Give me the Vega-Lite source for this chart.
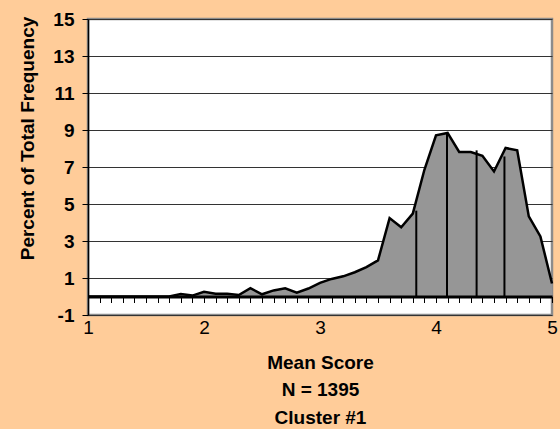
{
  "$schema": "https://vega.github.io/schema/vega-lite/v6.json",
  "width": 464,
  "height": 296,
  "autosize": {"type": "none"},
  "padding": {"left": 88, "top": 19, "right": 8, "bottom": 114},
  "background": "#FFCC99",
  "config": {
    "view": {"fill": "white", "stroke": "#8c8c8c", "strokeWidth": 2.5},
    "font": "Liberation Sans"
  },
  "datasets": {
    "freq": [
      {"score": 1.0, "pct": 0}, {"score": 1.1, "pct": 0}, {"score": 1.2, "pct": 0},
      {"score": 1.3, "pct": 0}, {"score": 1.4, "pct": 0}, {"score": 1.5, "pct": 0},
      {"score": 1.6, "pct": 0}, {"score": 1.7, "pct": 0}, {"score": 1.8, "pct": 0.13},
      {"score": 1.9, "pct": 0.05}, {"score": 2.0, "pct": 0.25}, {"score": 2.1, "pct": 0.15},
      {"score": 2.2, "pct": 0.15}, {"score": 2.3, "pct": 0.08}, {"score": 2.4, "pct": 0.45},
      {"score": 2.5, "pct": 0.12}, {"score": 2.6, "pct": 0.33}, {"score": 2.7, "pct": 0.44},
      {"score": 2.8, "pct": 0.21}, {"score": 2.9, "pct": 0.43}, {"score": 3.0, "pct": 0.74},
      {"score": 3.1, "pct": 0.95}, {"score": 3.2, "pct": 1.09}, {"score": 3.3, "pct": 1.31},
      {"score": 3.4, "pct": 1.59}, {"score": 3.5, "pct": 1.95}, {"score": 3.6, "pct": 4.24},
      {"score": 3.7, "pct": 3.74}, {"score": 3.8, "pct": 4.48}, {"score": 3.9, "pct": 6.85},
      {"score": 4.0, "pct": 8.71}, {"score": 4.1, "pct": 8.84}, {"score": 4.2, "pct": 7.81},
      {"score": 4.3, "pct": 7.81}, {"score": 4.4, "pct": 7.61}, {"score": 4.5, "pct": 6.76},
      {"score": 4.6, "pct": 8.03}, {"score": 4.7, "pct": 7.9}, {"score": 4.8, "pct": 4.33},
      {"score": 4.9, "pct": 3.25}, {"score": 5.0, "pct": 0.7}
    ],
    "markers": [
      {"score": 3.83, "pct": 4.64},
      {"score": 4.095, "pct": 8.84},
      {"score": 4.35, "pct": 7.9},
      {"score": 4.59, "pct": 7.57}
    ]
  },
  "layer": [
    {
      "data": {"name": "freq"},
      "mark": {"type": "area", "color": "#969696", "opacity": 1, "line": {"color": "black", "strokeWidth": 2.5}},
      "encoding": {
        "x": {
          "field": "score", "type": "quantitative",
          "scale": {"domain": [1, 5], "nice": false, "zero": false},
          "axis": {
            "values": [1, 2, 3, 4, 5], "domain": false, "ticks": false, "grid": false,
            "labelFontSize": 19, "labelColor": "black", "labelPadding": 3, "labelFlush": false, "labelOverlap": false,
            "title": ["Mean Score", "N = 1395", "Cluster #1"],
            "titleFontSize": 19, "titleFontWeight": "bold", "titleColor": "black",
            "titleLineHeight": 27.5, "titleBaseline": "alphabetic", "titleAlign": "center",
            "titleX": 232, "titleY": 53
          }
        },
        "y": {
          "field": "pct", "type": "quantitative",
          "scale": {"domain": [-1, 15], "nice": false, "zero": false},
          "axis": {
            "values": [-1, 1, 3, 5, 7, 9, 11, 13, 15],
            "labelExpr": "'' + datum.value",
            "grid": true, "gridColor": "#333333", "gridWidth": 1,
            "domain": true, "domainColor": "black", "domainWidth": 1.5,
            "ticks": true, "tickColor": "black", "tickSize": 6, "tickWidth": 1,
            "labelFontSize": 19, "labelFontWeight": "bold", "labelColor": "black", "labelPadding": 8,
            "labelFlush": false, "labelOverlap": false,
            "title": "Percent of Total Frequency",
            "titleFontSize": 19, "titleFontWeight": "bold", "titleColor": "black",
            "titleAngle": -90, "titleAlign": "center", "titleBaseline": "alphabetic",
            "titleX": -55, "titleY": 119
          }
        },
        "y2": {"datum": 0}
      }
    },
    {
      "data": {"name": "markers"},
      "mark": {"type": "rule", "color": "black", "strokeWidth": 2},
      "encoding": {
        "x": {
          "field": "score", "type": "quantitative",
          "axis": {
            "values": [1, 1.1, 1.2, 1.3, 1.4, 1.5, 1.6, 1.7, 1.8, 1.9, 2, 2.1, 2.2, 2.3, 2.4, 2.5, 2.6, 2.7, 2.8, 2.9, 3, 3.1, 3.2, 3.3, 3.4, 3.5, 3.6, 3.7, 3.8, 3.9, 4, 4.1, 4.2, 4.3, 4.4, 4.5, 4.6, 4.7, 4.8, 4.9, 5],
            "orient": "bottom", "offset": -18.5, "labels": false, "grid": false, "title": null,
            "domain": true, "domainColor": "black", "domainWidth": 3,
            "ticks": true, "tickColor": "black", "tickSize": 6, "tickWidth": 1,
            "zindex": 1
          }
        },
        "y": {
          "field": "pct", "type": "quantitative",
          "axis": {
            "values": [-1, 1, 3, 5, 7, 9, 11, 13, 15],
            "labelExpr": "'' + datum.value",
            "grid": true, "gridColor": "#333333", "gridWidth": 1,
            "domain": true, "domainColor": "black", "domainWidth": 1.5,
            "ticks": true, "tickColor": "black", "tickSize": 6, "tickWidth": 1,
            "labelFontSize": 19, "labelFontWeight": "bold", "labelColor": "black", "labelPadding": 8,
            "labelFlush": false, "labelOverlap": false,
            "title": "Percent of Total Frequency",
            "titleFontSize": 19, "titleFontWeight": "bold", "titleColor": "black",
            "titleAngle": -90, "titleAlign": "center", "titleBaseline": "alphabetic",
            "titleX": -55, "titleY": 119
          }
        },
        "y2": {"datum": 0}
      }
    }
  ],
  "resolve": {"axis": {"x": "independent"}}
}
